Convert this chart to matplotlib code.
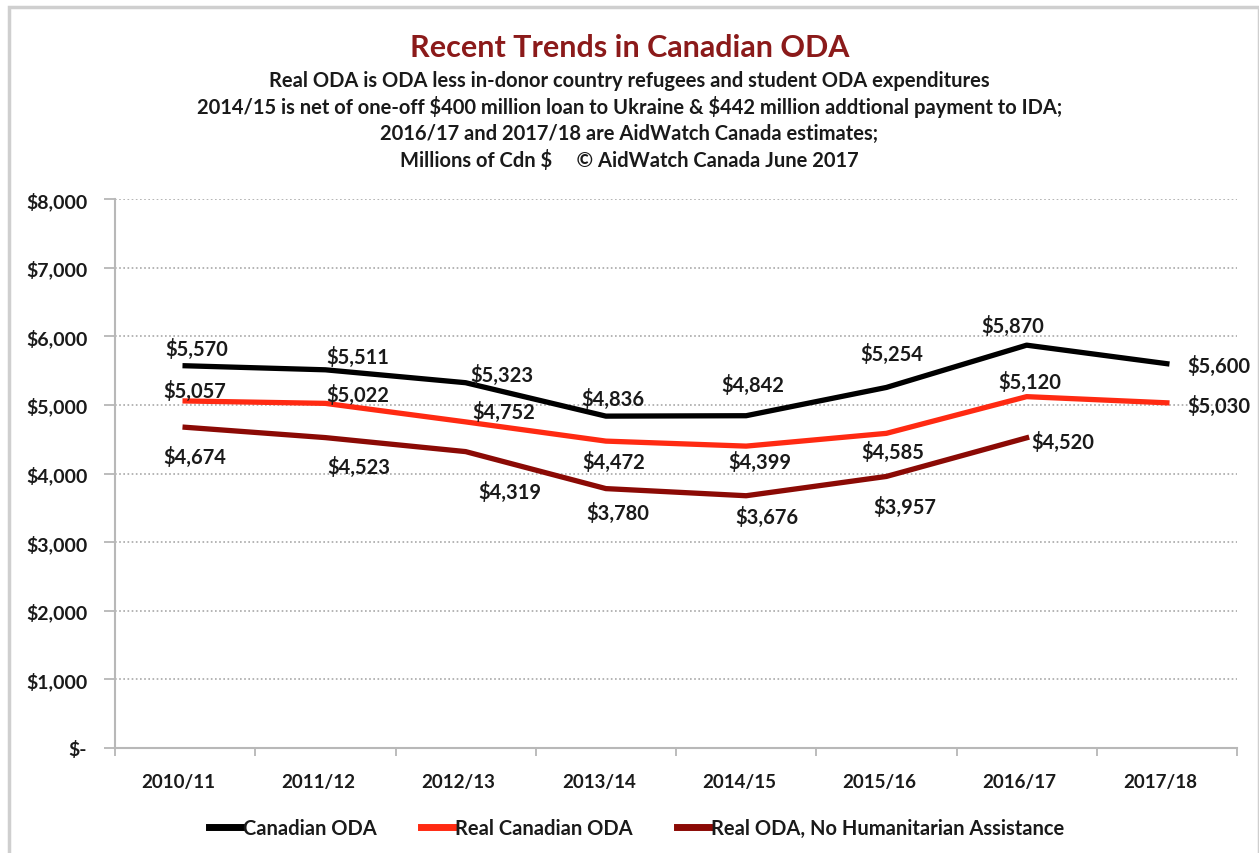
import numpy as np
import matplotlib
matplotlib.use('Agg')
import matplotlib.pyplot as plt
import matplotlib.transforms as mtransforms
from matplotlib.patches import Rectangle
from matplotlib.font_manager import FontProperties

plt.rcParams['font.family'] = ['Lato', 'DejaVu Sans']

# Data (millions of Cdn $)
years = ['2010/11', '2011/12', '2012/13', '2013/14', '2014/15', '2015/16', '2016/17', '2017/18']
canadian_oda = [5570, 5511, 5323, 4836, 4842, 5254, 5870, 5600]
real_oda = [5057, 5022, 4752, 4472, 4399, 4585, 5120, 5030]
real_no_hum = [4674, 4523, 4319, 3780, 3676, 3957, 4520, np.nan]
y_ticks = [0, 1000, 2000, 3000, 4000, 5000, 6000, 7000, 8000]
y_tick_labels = ['$-', '$1,000', '$2,000', '$3,000', '$4,000', '$5,000', '$6,000', '$7,000', '$8,000']
legend_names = ['Canadian ODA', 'Real Canadian ODA', 'Real ODA, No Humanitarian Assistance']

# label offsets in pixels (dx, dy up) -- placement only
off_black = [(12, 17), (32, 13), (36, 8), (7, 18), (7, 31), (5, 34), (-14, 20), (52, -2)]
off_red = [(10, 11), (32, 9), (38, 10), (8, -20), (14, -15), (6, -18), (3, 15), (52, -3)]
off_dark = [(10, -29), (33, -29), (44, -40), (12, -24), (21, -21), (18, -30), (36, -4), (0, 0)]

W, H = 1259, 854
fig = plt.figure(figsize=(W / 100, H / 100), dpi=100)
fig.patch.set_facecolor('white')

# chart frame like the Excel chart border
fig.add_artist(Rectangle((9 / W, -0.1), (W - 9) / W, (H - 8) / H + 0.1, transform=fig.transFigure,
                         fill=False, edgecolor='#cfcfcf', linewidth=2.5))

ax = fig.add_axes([115 / W, (H - 749) / H, (1237 - 115) / W, (749 - 200) / H])

label_font = FontProperties(family=['Lato', 'DejaVu Sans'], weight='bold', size=14.5)

x = np.arange(len(years))
series = [
    (canadian_oda, '#000000', off_black),
    (real_oda, '#ff2a12', off_red),
    (real_no_hum, '#8b0a05', off_dark),
]
for (vals, col, offs), name in zip(series, legend_names):
    ax.plot(x, vals, color=col, linewidth=3.8, solid_joinstyle='round', label=name)
    for xi, v, (dx, dy) in zip(x, vals, offs):
        if np.isnan(v):
            continue
        ax.annotate('${:,.0f}'.format(v), (xi, v), xytext=(dx, dy), textcoords='offset pixels',
                    ha='center', va='center', fontproperties=label_font, color='#1a1a1a')

ax.set_xlim(-0.5, len(years) - 0.5)
ax.set_ylim(0, 8000)
ax.set_yticks(y_ticks)
ax.set_yticklabels(y_tick_labels, fontsize=14, fontweight='bold', color='#1a1a1a')
ax.set_xticks(x)
ax.set_xticklabels(years, fontsize=13.5, fontweight='bold', color='#1a1a1a')
ax.set_xticks(np.arange(-0.5, len(years)), minor=True)
ax.tick_params(axis='x', which='major', length=0, pad=18)
ax.tick_params(axis='x', which='minor', length=6, color='#b0b0b0', width=1.2)
ax.tick_params(axis='y', length=8, color='#b0b0b0', width=1.2, pad=12)

# x labels sit a little left of the category centres in the original
shift = mtransforms.ScaledTranslation(-7 / 100, 0, fig.dpi_scale_trans)
for lab in ax.get_xticklabels():
    lab.set_transform(lab.get_transform() + shift)

ax.grid(axis='y', linestyle=(0, (1, 1.5)), color='#a8a8a8', linewidth=1.2)
ax.set_axisbelow(True)
for side in ['top', 'right']:
    ax.spines[side].set_visible(False)
for side in ['left', 'bottom']:
    ax.spines[side].set_color('#b8b8b8')
    ax.spines[side].set_linewidth(1.5)

# titles
fig.text(0.5, (H - 48) / H, 'Recent Trends in Canadian ODA', ha='center', va='center',
         fontsize=22, fontweight='bold', color='#8b1a1a')
sub = ['Real ODA is ODA less in-donor country refugees and student ODA expenditures',
       '2014/15 is net of one-off \\$400 million loan to Ukraine & \\$442 million addtional payment to IDA;',
       '2016/17 and 2017/18 are AidWatch Canada estimates;',
       'Millions of Cdn \\$     \u00a9 AidWatch Canada June 2017']
for i, s in enumerate(sub):
    fig.text(0.5, (H - 81 - 26.5 * i) / H, s, ha='center', va='center',
             fontsize=14.5, fontweight='bold', color='#1a1a1a')

leg = ax.legend(loc='center', bbox_to_anchor=(0.465, -0.145), ncol=3, frameon=False,
                prop={'size': 14.5, 'weight': 'bold'}, handlelength=1.6, handletextpad=0.1,
                columnspacing=2.2)
for h in leg.get_lines():
    h.set_linewidth(5)
for t in leg.get_texts():
    t.set_color('#1a1a1a')

fig.savefig('out.png', dpi=100, facecolor='white')
